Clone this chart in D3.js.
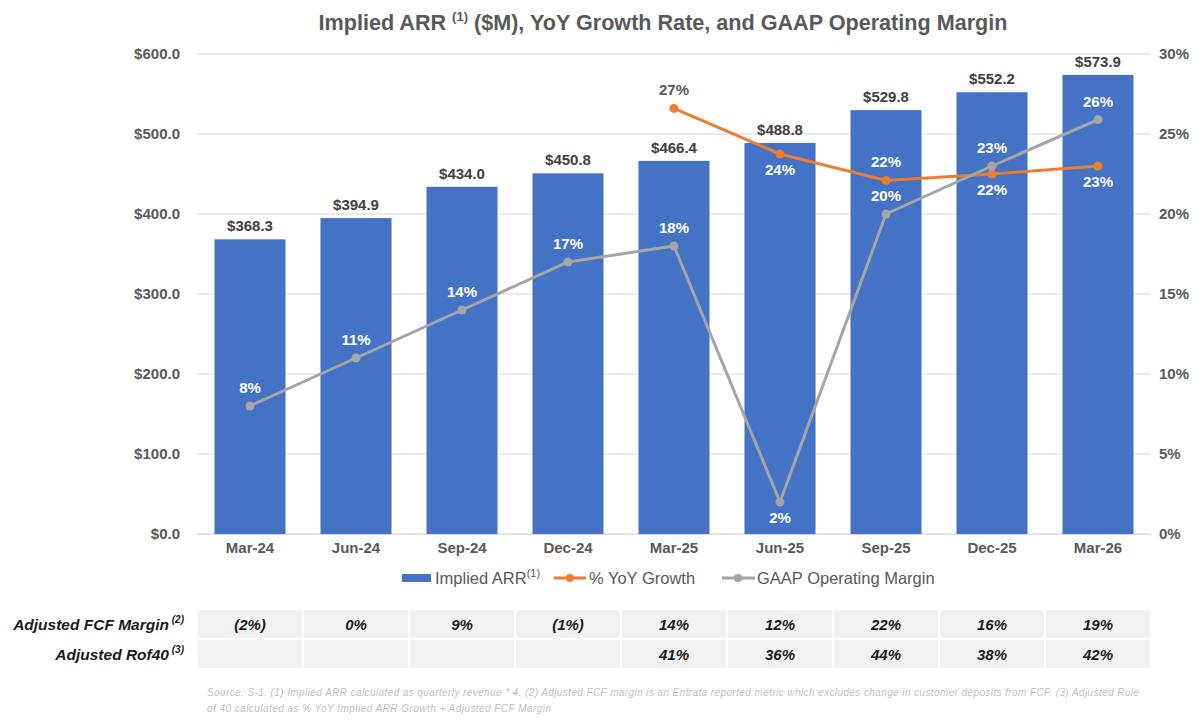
<!DOCTYPE html>
<html><head><meta charset="utf-8">
<script src="https://cdn.jsdelivr.net/npm/d3@7"></script>
<style>
html,body{margin:0;padding:0;background:#fff;}
svg{display:block;font-family:"Liberation Sans",Arial,sans-serif;}
</style></head>
<body>
<svg id="chart" width="1200" height="722"></svg>
<script>
const categories = ["Mar-24","Jun-24","Sep-24","Dec-24","Mar-25","Jun-25","Sep-25","Dec-25","Mar-26"];
const arrValues = [368.3,394.9,434.0,450.8,466.4,488.8,529.8,552.2,573.9];
const yoyGrowth = [null,null,null,null,26.6,23.75,22.1,22.5,23.0];
const yoyLabels = [null,null,null,null,"27%","24%","22%","22%","23%"];
const gaapMargin = [8,11,14,17,18,2,20,23,25.9];
const gaapLabels = ["8%","11%","14%","17%","18%","2%","20%","23%","26%"];
const fcfMargin = ["(2%)","0%","9%","(1%)","14%","12%","22%","16%","19%"];
const rof40 = ["","","","","41%","36%","44%","38%","42%"];
const leftTicks = [0,100,200,300,400,500,600];
const rightTicks = [0,5,10,15,20,25,30];
// label placement: 1 = above, -1 = below
const gaapLabelPos = [1,1,1,1,1,-1,1,1,1];
const yoyLabelPos = [0,0,0,0,1,-1,1,-1,-1];

const svg = d3.select("#chart");
const L = 197, R = 1151, T = 54, B = 534;
const x = d3.scaleBand().domain(categories).range([L,R]).paddingInner(0.33).paddingOuter(0.165);
const yL = d3.scaleLinear().domain([0,600]).range([B,T]);
const yR = d3.scaleLinear().domain([0,30]).range([B,T]);
const cx = c => x(c) + x.bandwidth()/2;

const blue="#4472C4", orange="#ED7D31", grey="#A5A5A5", axisText="#595959";

// title
const title = svg.append("text").attr("x",663).attr("y",30).attr("text-anchor","middle")
  .attr("font-size",21.6).attr("font-weight","bold").attr("fill","#595959");
title.append("tspan").text("Implied ARR ");
title.append("tspan").text("(1)").attr("font-size",13).attr("dy",-9);
title.append("tspan").text(" ($M), YoY Growth Rate, and GAAP Operating Margin").attr("dy",9);

// gridlines
svg.append("g").selectAll("line").data(leftTicks).join("line")
  .attr("x1",L).attr("x2",R).attr("y1",d=>yL(d)).attr("y2",d=>yL(d))
  .attr("stroke","#d9d9d9").attr("stroke-width",1);

// left axis
const gl = svg.append("g").attr("transform",`translate(${L-12},0)`)
  .call(d3.axisLeft(yL).tickValues(leftTicks).tickSize(0).tickFormat(d=>"$"+d3.format(".1f")(d)));
gl.select(".domain").remove();
gl.selectAll("text").attr("font-size",15).attr("font-weight","bold").attr("fill",axisText)
  .attr("font-family","Liberation Sans, Arial, sans-serif").attr("dx",-2);

// right axis
const gr = svg.append("g").attr("transform",`translate(${R},0)`)
  .call(d3.axisRight(yR).tickValues(rightTicks).tickSize(0).tickFormat(d=>d+"%"));
gr.select(".domain").remove();
gr.selectAll("text").attr("font-size",15).attr("font-weight","bold").attr("fill",axisText)
  .attr("font-family","Liberation Sans, Arial, sans-serif").attr("dx",5);

// bottom axis
const gb = svg.append("g").attr("transform",`translate(0,${B})`)
  .call(d3.axisBottom(x).tickSize(0));
gb.select(".domain").attr("stroke","#d9d9d9");
gb.selectAll("text").attr("font-size",15).attr("font-weight","bold").attr("fill",axisText)
  .attr("font-family","Liberation Sans, Arial, sans-serif").attr("dy","1.05em");

// bars
svg.append("g").selectAll("rect").data(categories).join("rect")
  .attr("x",d=>x(d)).attr("width",x.bandwidth())
  .attr("y",(d,i)=>yL(arrValues[i])).attr("height",(d,i)=>yL(0)-yL(arrValues[i]))
  .attr("fill",blue);

// bar labels
svg.append("g").selectAll("text").data(categories).join("text")
  .attr("x",d=>cx(d)).attr("y",(d,i)=>yL(arrValues[i])-8)
  .attr("text-anchor","middle").attr("font-size",15).attr("font-weight","bold").attr("fill","#404040")
  .text((d,i)=>"$"+d3.format(".1f")(arrValues[i]));

// lines
const gaapPts = categories.map((c,i)=>({c,v:gaapMargin[i],l:gaapLabels[i],p:gaapLabelPos[i],i}));
const yoyPts = categories.map((c,i)=>({c,v:yoyGrowth[i],l:yoyLabels[i],p:yoyLabelPos[i],i})).filter(d=>d.v!==null);
const line = d3.line().x(d=>cx(d.c)).y(d=>yR(d.v));

svg.append("path").datum(yoyPts).attr("d",line).attr("fill","none").attr("stroke",orange).attr("stroke-width",3);
svg.append("g").selectAll("circle").data(yoyPts).join("circle")
  .attr("cx",d=>cx(d.c)).attr("cy",d=>yR(d.v)).attr("r",4.5).attr("fill",orange);

svg.append("path").datum(gaapPts).attr("d",line).attr("fill","none").attr("stroke",grey).attr("stroke-width",3);
svg.append("g").selectAll("circle").data(gaapPts).join("circle")
  .attr("cx",d=>cx(d.c)).attr("cy",d=>yR(d.v)).attr("r",4.5).attr("fill",grey);

function labels(pts){
  svg.append("g").selectAll("text").data(pts).join("text")
    .attr("x",d=>cx(d.c))
    .attr("y",d=> d.p>0 ? yR(d.v)-13 : yR(d.v)+21)
    .attr("text-anchor","middle").attr("font-size",15).attr("font-weight","bold")
    .attr("fill",d=> (d.p>0 ? yR(d.v)-25 : yR(d.v)+8) > yL(arrValues[d.i]) ? "#fff" : "#595959")
    .text(d=>d.l);
}
labels(gaapPts);
labels(yoyPts);

// legend
const lg = svg.append("g").attr("font-size",16.5).attr("fill",axisText);
lg.append("rect").attr("x",402).attr("y",574).attr("width",29).attr("height",8).attr("fill",blue);
const t1 = lg.append("text").attr("x",435).attr("y",584).attr("fill",axisText);
t1.append("tspan").text("Implied ARR");
t1.append("tspan").text("(1)").attr("font-size",11).attr("dy",-7);
lg.append("line").attr("x1",554).attr("x2",586).attr("y1",578).attr("y2",578).attr("stroke",orange).attr("stroke-width",3);
lg.append("circle").attr("cx",570).attr("cy",578).attr("r",4).attr("fill",orange);
lg.append("text").attr("x",589).attr("y",584).attr("fill",axisText).text("% YoY Growth");
lg.append("line").attr("x1",722).attr("x2",755).attr("y1",578).attr("y2",578).attr("stroke",grey).attr("stroke-width",3);
lg.append("circle").attr("cx",738).attr("cy",578).attr("r",4).attr("fill",grey);
lg.append("text").attr("x",757).attr("y",584).attr("fill",axisText).text("GAAP Operating Margin");

// table
const rows = [{name:"Adjusted FCF Margin",sup:"(2)",vals:fcfMargin,y:610},{name:"Adjusted Rof40",sup:"(3)",vals:rof40,y:640}];
const rowH = 28;
rows.forEach(r=>{
  const g = svg.append("g");
  g.selectAll("rect").data(categories).join("rect")
    .attr("x",d=>x(d)-x.step()*x.paddingInner()/2+1).attr("width",x.step()-2)
    .attr("y",r.y).attr("height",rowH).attr("fill","#f2f2f2");
  g.selectAll("text").data(categories).join("text")
    .attr("x",d=>cx(d)).attr("y",r.y+rowH/2+6).attr("text-anchor","middle")
    .attr("font-size",15).attr("font-weight","bold").attr("font-style","italic").attr("fill","#1a1a1a")
    .text((d,i)=>r.vals[i]);
  const lt = g.append("text").attr("x",184).attr("y",r.y+rowH/2+6).attr("text-anchor","end")
    .attr("font-size",15.5).attr("font-weight","bold").attr("font-style","italic").attr("fill","#1a1a1a");
  lt.append("tspan").text(r.name);
  lt.append("tspan").text(" "+r.sup).attr("font-size",10).attr("dy",-7);
});

// footnote
const fn = svg.append("g").attr("font-size",10).attr("font-style","italic").attr("fill","#bfbfbf");
fn.append("text").attr("x",207).attr("y",696).attr("textLength",932).attr("lengthAdjust","spacing")
  .text("Source: S-1. (1) Implied ARR calculated as quarterly revenue * 4. (2) Adjusted FCF margin is an Entrata reported metric which excludes change in customer deposits from FCF. (3) Adjusted Rule");
fn.append("text").attr("x",207).attr("y",712).attr("textLength",344).attr("lengthAdjust","spacing")
  .text("of 40 calculated as % YoY Implied ARR Growth + Adjusted FCF Margin");
</script>
</body></html>
